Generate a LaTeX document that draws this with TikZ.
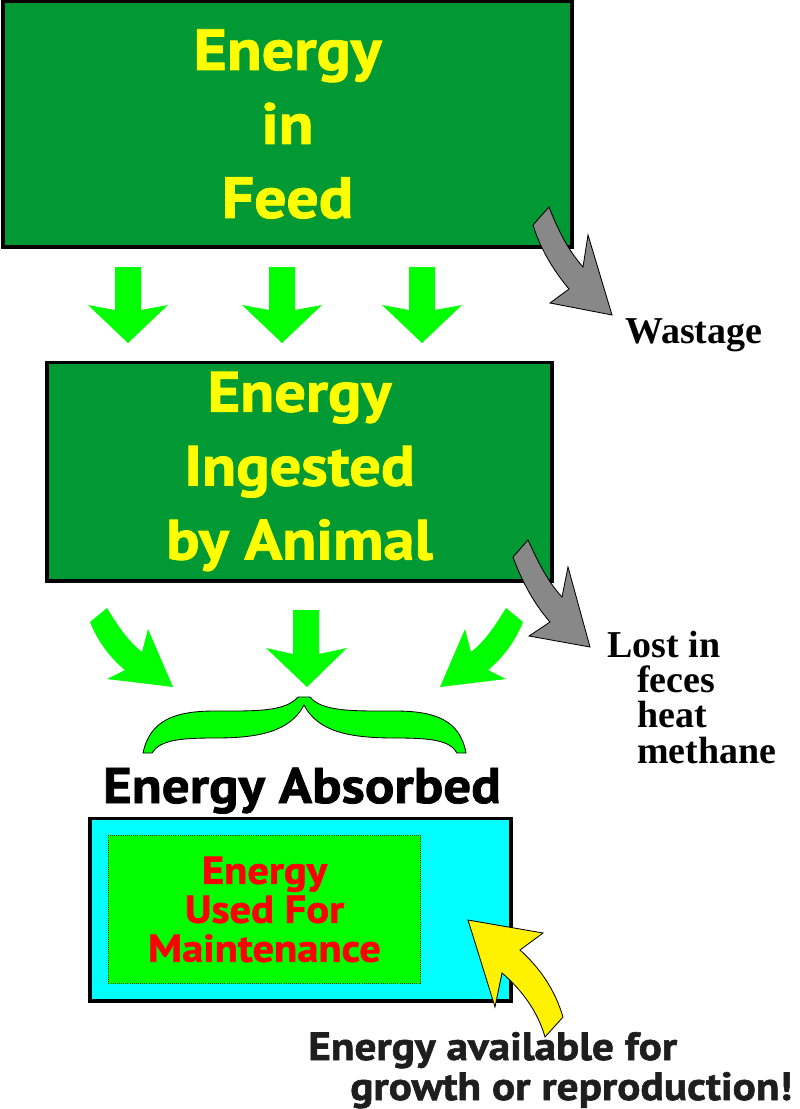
\documentclass[tikz,border=0pt]{standalone}
\usepackage{fontspec}
\setmainfont{Liberation Serif}
\setsansfont{PT Sans}[FakeStretch=1.1,BoldFeatures={FakeBold=1.5}]
\usetikzlibrary{positioning}
\definecolor{feedgreen}{HTML}{009933}
\definecolor{brightgreen}{HTML}{00FF00}
\definecolor{arrowgray}{HTML}{888888}
\definecolor{absorbcyan}{HTML}{00FFFF}
\definecolor{textyellow}{HTML}{FFFF00}
\definecolor{textred}{HTML}{FF0000}
\definecolor{notegray}{HTML}{1E1E1E}

\begin{document}
\begin{tikzpicture}[x=0.025cm,y=-0.025cm,
    feedbox/.style={draw=black,line width=2.8pt,fill=feedgreen,text=textyellow,
      align=center,font=\sffamily\bfseries\fontsize{41.3}{52.6}\selectfont},
    lossnote/.style={inner sep=0pt,font=\rmfamily\bfseries\fontsize{27}{25}\selectfont},
    availnote/.style={inner sep=0pt,text=notegray,font=\sffamily\bfseries\fontsize{28}{28}\selectfont},
    grayarrow/.style={draw=black,line width=0.6pt,fill=arrowgray}]
  \useasboundingbox (0,0) rectangle (800,1109);
  % boxes
  \node[feedbox,minimum width=14.2cm,minimum height=6.15cm] (feed) at (287.5,124) {Energy\\in\\Feed};
  \node[feedbox,minimum width=12.6cm,minimum height=5.45cm,font=\sffamily\bfseries\fontsize{40.4}{52.6}\selectfont]
    (ingested) at (299.5,471.5) {Energy\\Ingested\\by Animal};
  \node[draw=black,line width=2.8pt,fill=absorbcyan,minimum width=10.5cm,minimum height=4.55cm]
    (absorbed) at (300.5,909.5) {};
  \node[draw=black!70!green,densely dotted,line width=0.5pt,fill=brightgreen,minimum width=7.8cm,minimum height=3.7cm,
    text=textred,align=center,font=\sffamily\bfseries\fontsize{27.5}{27.7}\selectfont]
    (maint) at (264.5,909.5) {Energy\\Used For\\Maintenance};
  \node[inner sep=0pt,anchor=base,font=\sffamily\bfseries\fontsize{35.6}{36}\selectfont] (abslabel) at (302,803) {Energy Absorbed};
  % side notes
  \node[lossnote,anchor=base west] (wastage) at (625,343) {Wastage};
  \node[lossnote,anchor=north west,align=left] (lost) at (607,631)
    {Lost in\\\hspace*{0.75cm}feces\\\hspace*{0.75cm}heat\\\hspace*{0.75cm}methane};
  \node[availnote,anchor=base west] (availA) at (308,1060) {Energy available for};
  \node[availnote,anchor=base west] (availB) at (350,1100) {growth or reproduction!};
  % straight arrows feed -> ingested
  \foreach \ax in {128,282,422}
    \fill[brightgreen] (\ax-13,267) -- (\ax+13,267) -- (\ax+13,310) -- (\ax+40,305) -- (\ax,343)
      -- (\ax-40,305) -- (\ax-13,310) -- cycle;
  % arrows into the brace
  \fill[brightgreen] (293,610) -- (319,610) -- (319,654) -- (347,648) -- (307,687) -- (266,648) -- (293,654) -- cycle;
  \fill[brightgreen] (90,622) -- (107,608) .. controls (118,626) and (128,641) .. (142,652) -- (148,629)
    -- (173,687) -- (107,679) -- (125,670) .. controls (110,658) and (97,640) .. (90,622) -- cycle;
  \begin{scope}[shift={(613,0)},xscale=-1]
    \fill[brightgreen] (90,622) -- (107,608) .. controls (118,626) and (128,641) .. (142,652) -- (148,629)
      -- (173,687) -- (107,679) -- (125,670) .. controls (110,658) and (97,640) .. (90,622) -- cycle;
  \end{scope}
  % brace
  \draw[fill=brightgreen,line width=0.6pt] (143,753) .. controls (150,720) and (175,711) .. (215,711)
    .. controls (255,711) and (285,712) .. (298,697) -- (310,697)
    .. controls (322,712) and (355,711) .. (395,711) .. controls (435,711) and (460,720) .. (466,753)
    -- (457,753) .. controls (450,740) and (430,738) .. (395,738) .. controls (350,738) and (318,732) .. (304,705)
    .. controls (290,732) and (258,738) .. (215,738) .. controls (180,738) and (160,740) .. (152,753) -- cycle;
  % losses
  \draw[grayarrow] (533,225) -- (549,207) .. controls (558,230) and (568,250) .. (583,267) -- (588,235)
    -- (612,315) -- (550,303) -- (569,289) .. controls (553,270) and (540,248) .. (533,225) -- cycle;
  \draw[grayarrow] (513,557) -- (528,540) .. controls (538,562) and (548,582) .. (562,597) -- (568,567)
    -- (590,647) -- (529,636) -- (550,622) .. controls (535,605) and (522,582) .. (513,557) -- cycle;
  % growth
  \draw[fill=yellow,line width=0.6pt] (468,920) -- (543,933) -- (520,950) .. controls (540,968) and (555,990) .. (563,1017)
    -- (545,1037) .. controls (538,1012) and (522,990) .. (502,973) -- (495,1007) -- cycle;
\end{tikzpicture}
\end{document}
